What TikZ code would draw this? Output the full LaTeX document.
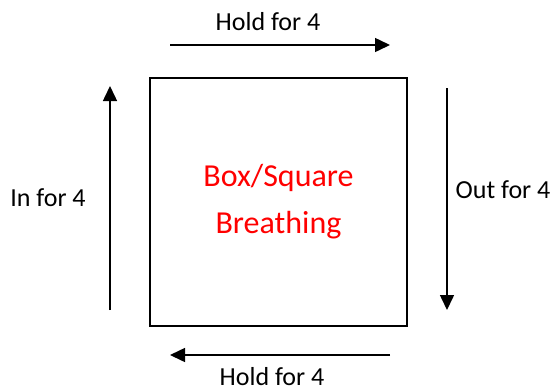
\documentclass[tikz,border=0pt]{standalone}
\usepackage{fontspec}
\setmainfont{Carlito}
\usetikzlibrary{arrows.meta}
\begin{document}
\begin{tikzpicture}[x=1bp,y=-1bp,
  lbl/.style={font=\fontsize{26bp}{31bp}\selectfont, inner sep=0pt},
  arr/.style={line width=1.5bp, -{Triangle[length=15bp,width=14bp]}},
  box/.style={draw, line width=1.6bp, minimum width=257bp, minimum height=248bp, inner sep=0pt,
    text=red, align=center, font=\fontsize{32bp}{47bp}\selectfont}]
\useasboundingbox (0,0) rectangle (557,391);
\node[box] (sq) at (278.5,202) {Box/Square\\Breathing};
\coordinate (t1) at (170,45); \coordinate (t2) at (390,45);
\coordinate (r1) at (447,88); \coordinate (r2) at (447,310);
\coordinate (b1) at (390,355); \coordinate (b2) at (170,355);
\coordinate (l1) at (110,310); \coordinate (l2) at (110,86);
\draw[arr] (t1) -- (t2);
\draw[arr] (r1) -- (r2);
\draw[arr] (b1) -- (b2);
\draw[arr] (l1) -- (l2);
\node[lbl] (ht) at (268,22) {Hold for 4};
\node[lbl, anchor=base] (hb) at (272,385) {Hold for 4};
\node[lbl] (in) at (48,198) {In for 4};
\node[lbl] (out) at (503,190) {Out for 4};
\end{tikzpicture}
\end{document}
